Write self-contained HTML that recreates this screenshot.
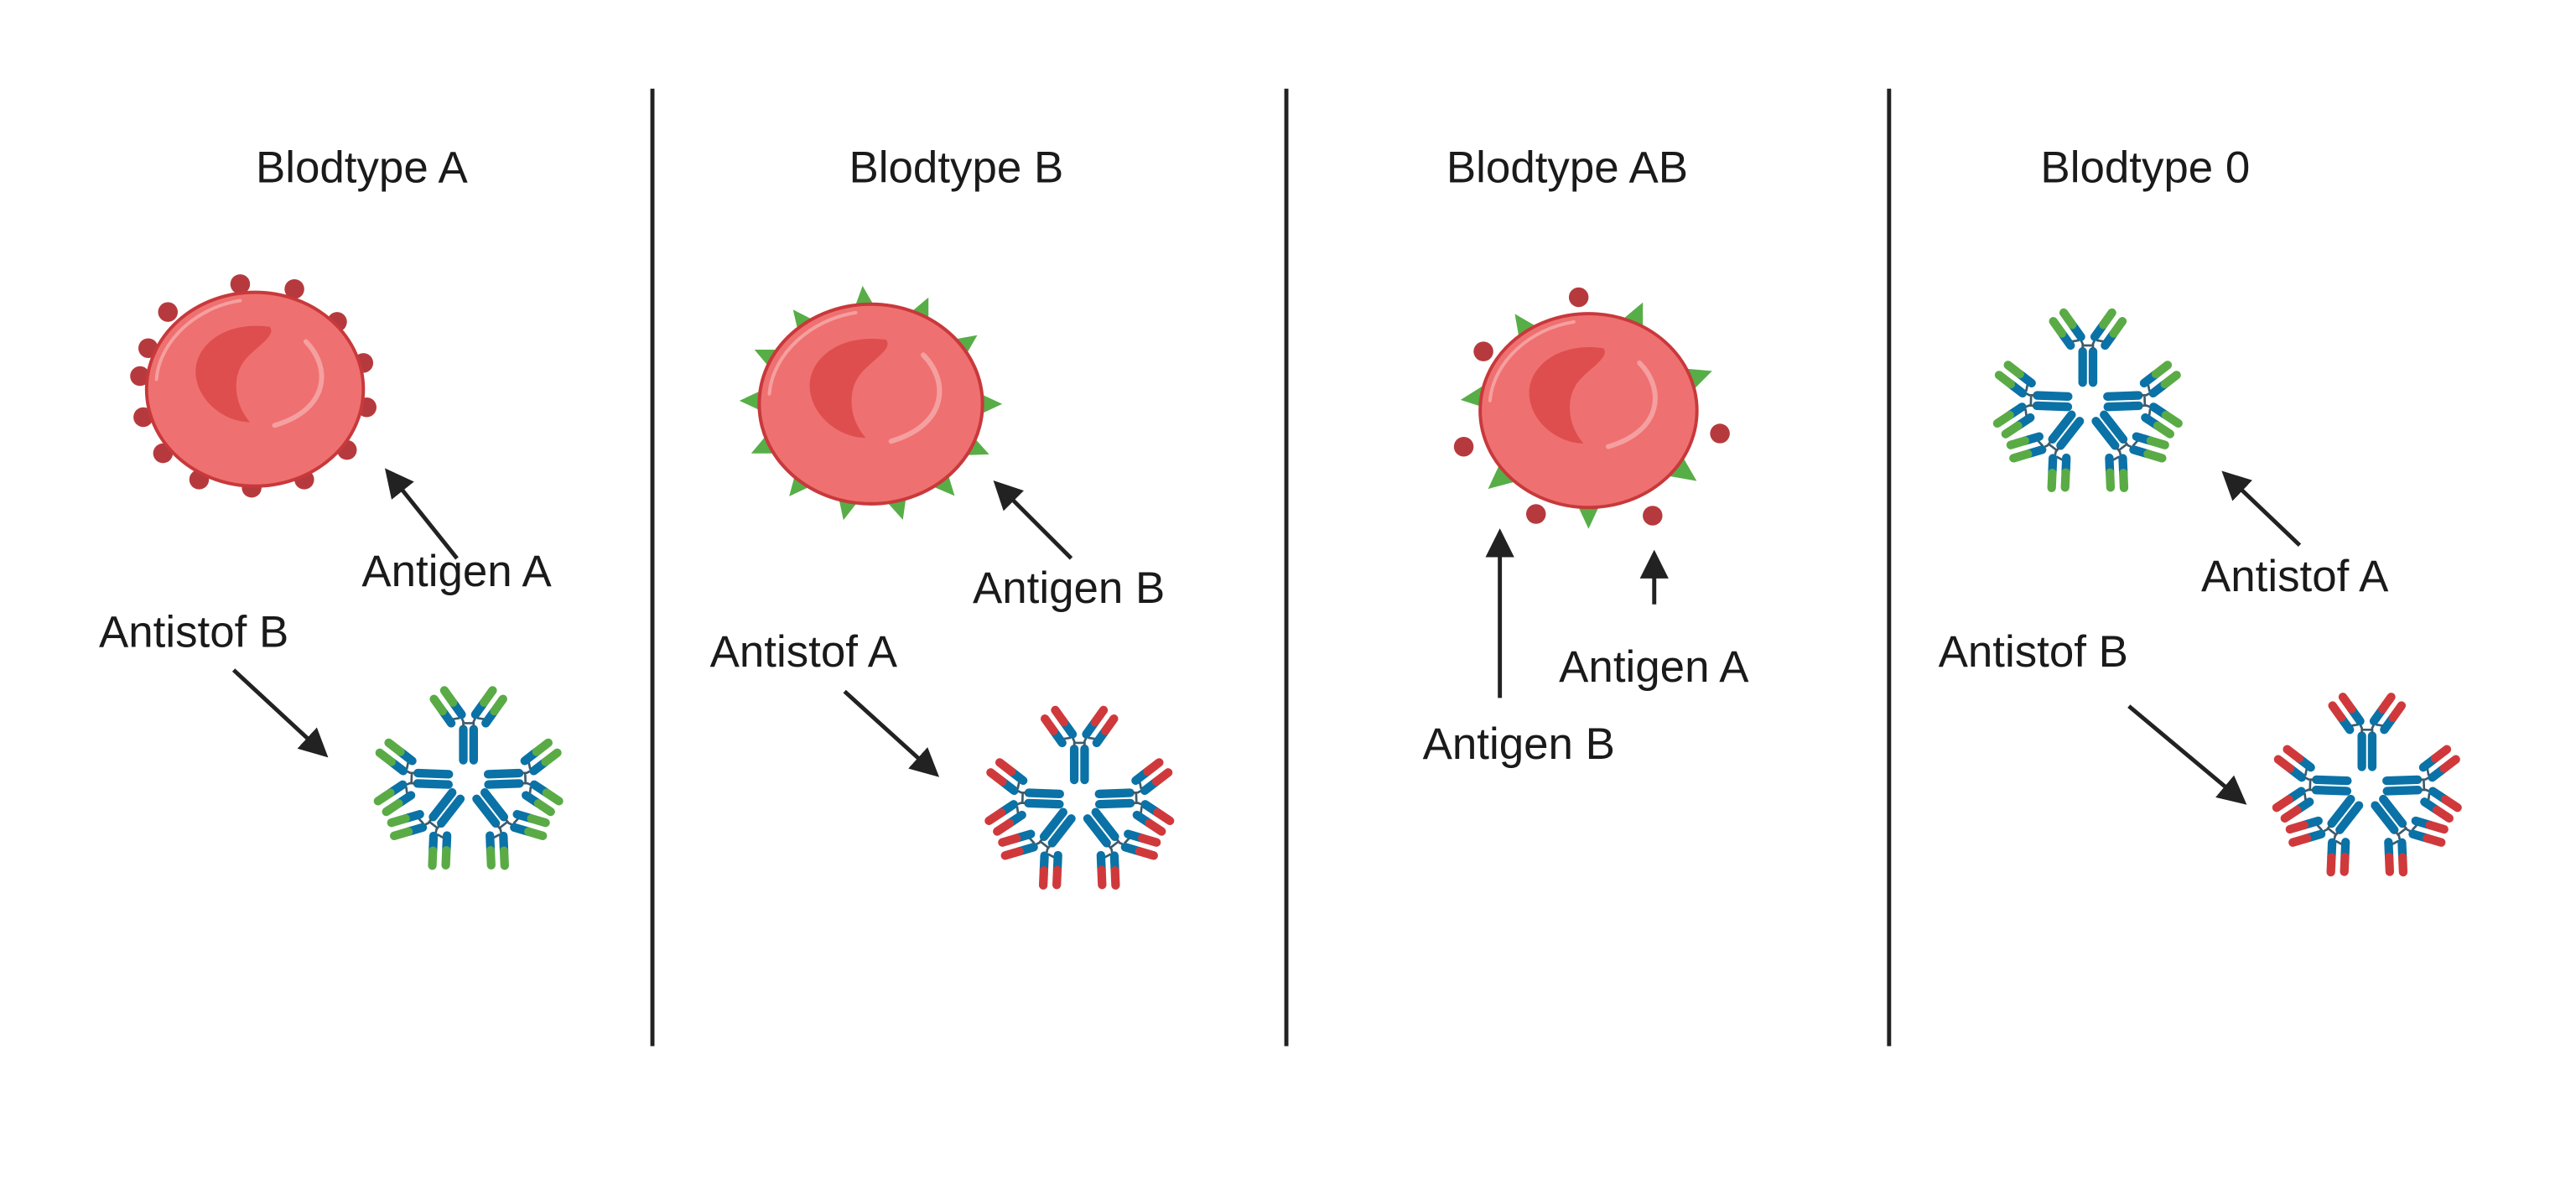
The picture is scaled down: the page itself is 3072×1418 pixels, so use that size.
<!DOCTYPE html>
<html><head><meta charset="utf-8"><style>
html,body{margin:0;padding:0;background:#fff;}
svg{display:block;}
text{font-family:"Liberation Sans",sans-serif;fill:#1a1a1a;font-size:27px;}
</style></head><body>
<svg width="3072" height="1418" viewBox="0 0 1568 724" xmlns="http://www.w3.org/2000/svg">
<defs>
<marker id="ah" markerWidth="7" markerHeight="7" refX="4.5" refY="3.5" orient="auto" markerUnits="strokeWidth">
<path d="M0,0 L7,3.5 L0,7 Z" fill="#222"/></marker>
<g id="abg">
 <rect x="-5.5" y="-32" width="5" height="23" rx="2.5" fill="#0a72a6"/>
 <rect x="0.5" y="-32" width="5" height="23" rx="2.5" fill="#0a72a6"/>
 <path d="M-3,-31 L-3,-34 L-5,-38 M3,-31 L3,-34 L5,-38 M-3,-33 L3,-33 M-5,-36 L-11,-35 M5,-36 L11,-35" stroke="#3d5a6b" stroke-width="1.3" fill="none"/>
 <g stroke-linecap="round" stroke-width="5" fill="none">
  <path d="M-4,-38 L-9,-45" stroke="#0a72a6"/><path d="M-9,-45 L-14,-52" stroke="#5aab46"/>
  <path d="M-10,-33 L-15,-40" stroke="#0a72a6"/><path d="M-15,-40 L-20,-47" stroke="#5aab46"/>
  <path d="M4,-38 L9,-45" stroke="#0a72a6"/><path d="M9,-45 L14,-52" stroke="#5aab46"/>
  <path d="M10,-33 L15,-40" stroke="#0a72a6"/><path d="M15,-40 L20,-47" stroke="#5aab46"/>
 </g>
</g>
<g id="abr">
 <rect x="-5.5" y="-32" width="5" height="23" rx="2.5" fill="#0a72a6"/>
 <rect x="0.5" y="-32" width="5" height="23" rx="2.5" fill="#0a72a6"/>
 <path d="M-3,-31 L-3,-34 L-5,-38 M3,-31 L3,-34 L5,-38 M-3,-33 L3,-33 M-5,-36 L-11,-35 M5,-36 L11,-35" stroke="#3d5a6b" stroke-width="1.3" fill="none"/>
 <g stroke-linecap="round" stroke-width="5" fill="none">
  <path d="M-4,-38 L-9,-45" stroke="#0a72a6"/><path d="M-9,-45 L-14,-52" stroke="#d0393b"/>
  <path d="M-10,-33 L-15,-40" stroke="#0a72a6"/><path d="M-15,-40 L-20,-47" stroke="#d0393b"/>
  <path d="M4,-38 L9,-45" stroke="#0a72a6"/><path d="M9,-45 L14,-52" stroke="#d0393b"/>
  <path d="M10,-33 L15,-40" stroke="#0a72a6"/><path d="M15,-40 L20,-47" stroke="#d0393b"/>
 </g>
</g>
<g id="cg">
 <use href="#abg"/><use href="#abg" transform="rotate(88)"/><use href="#abg" transform="rotate(-88)"/>
 <use href="#abg" transform="rotate(142)"/><use href="#abg" transform="rotate(-142)"/>
</g>
<g id="cr">
 <use href="#abr"/><use href="#abr" transform="rotate(88)"/><use href="#abr" transform="rotate(-88)"/>
 <use href="#abr" transform="rotate(142)"/><use href="#abr" transform="rotate(-142)"/>
</g>
<g id="cellbody">
 <ellipse cx="0" cy="0" rx="66" ry="59" fill="#ef7070" stroke="#c8393b" stroke-width="2"/>
 <path d="M9,-38 C-20,-42 -38,-25 -36,-8 C-34,8 -18,20 -3,20 C-12,10 -14,-5 -8,-15 C-3,-24 14,-32 9,-38 Z" fill="#de4e4e"/>
 <path d="M31,-29 C46,-14 46,12 12,22" stroke="#f5a0a0" stroke-width="3" fill="none" stroke-linecap="round"/>
 <path d="M-9,-54 C-35,-50 -58,-30 -60,-6" stroke="#f5a0a0" stroke-width="2" fill="none" stroke-linecap="round"/>
</g>
<polygon id="sp" points="-7,3 7,3 0,-12" fill="#57ae47"/>
</defs>

<g stroke="#222" stroke-width="2.5">
<line x1="397" y1="54" x2="397" y2="637"/><line x1="783" y1="54" x2="783" y2="637"/><line x1="1150" y1="54" x2="1150" y2="637"/>
</g>

<text x="220" y="111" text-anchor="middle">Blodtype A</text>
<text x="582" y="111" text-anchor="middle">Blodtype B</text>
<text x="954" y="111" text-anchor="middle">Blodtype AB</text>
<text x="1306" y="111" text-anchor="middle">Blodtype 0</text>

<g transform="translate(155,237)" fill="#b63a3d">
 <circle cx="-9" cy="-64" r="6"/><circle cx="24" cy="-61" r="6"/><circle cx="-53" cy="-47" r="6"/><circle cx="50" cy="-41" r="6"/>
 <circle cx="-65" cy="-25" r="6"/><circle cx="66" cy="-16" r="6"/><circle cx="-70" cy="-8" r="6"/><circle cx="68" cy="11" r="6"/>
 <circle cx="-68" cy="17" r="6"/><circle cx="56" cy="37" r="6"/><circle cx="-56" cy="39" r="6"/><circle cx="-34" cy="55" r="6"/>
 <circle cx="30" cy="55" r="6"/><circle cx="-2" cy="60" r="6"/>
 <use href="#cellbody"/>
</g>

<g transform="translate(530,246)">
 <use href="#sp" transform="translate(68,0) rotate(90)"/>
 <use href="#sp" transform="translate(61,26) rotate(113)"/>
 <use href="#sp" transform="translate(43,47) rotate(138)"/>
 <use href="#sp" transform="translate(16,59) rotate(163)"/>
 <use href="#sp" transform="translate(-14,59) rotate(193)"/>
 <use href="#sp" transform="translate(-42,47) rotate(220)"/>
 <use href="#sp" transform="translate(-62,25) rotate(245)"/>
 <use href="#sp" transform="translate(-68,-2) rotate(270)"/>
 <use href="#sp" transform="translate(-60,-28) rotate(295)"/>
 <use href="#sp" transform="translate(-40,-48) rotate(322)"/>
 <use href="#sp" transform="translate(-4,-60) rotate(355)"/>
 <use href="#sp" transform="translate(30,-54) rotate(25)"/>
 <use href="#sp" transform="translate(55,-35) rotate(55)"/>
 <g transform="scale(1.03)"><use href="#cellbody"/></g>
</g>

<g transform="translate(967,250)">
 <g fill="#b63a3d">
  <circle cx="-64" cy="-36" r="6"/><circle cx="-6" cy="-69" r="6"/><circle cx="80" cy="14" r="6"/>
  <circle cx="-76" cy="22" r="6"/><circle cx="-32" cy="63" r="6"/><circle cx="39" cy="64" r="6"/>
 </g>
 <use href="#sp" transform="translate(-38,-49) rotate(325)"/>
 <use href="#sp" transform="translate(28,-55) rotate(25)"/>
 <use href="#sp" transform="translate(64,-20) rotate(70)"/>
 <use href="#sp" transform="translate(-66,-8) rotate(263)"/>
 <use href="#sp" transform="translate(56,36) rotate(125)"/>
 <use href="#sp" transform="translate(0,60) rotate(180)"/>
 <use href="#sp" transform="translate(-52,40) rotate(230)"/>
 <use href="#cellbody"/>
</g>

<use href="#cg" transform="translate(285,475) scale(1.05)"/>
<use href="#cr" transform="translate(657,487) scale(1.05)"/>
<use href="#cg" transform="translate(1271,245) scale(1.05)"/>
<use href="#cr" transform="translate(1441,479) scale(1.05)"/>

<g stroke="#222" stroke-width="2.5" marker-end="url(#ah)">
<line x1="278" y1="340" x2="238" y2="290"/>
<line x1="142" y1="408" x2="195" y2="457"/>
<line x1="652" y1="340" x2="609" y2="297"/>
<line x1="514" y1="421" x2="567" y2="469"/>
<line x1="913" y1="425" x2="913" y2="328"/>
<line x1="1007" y1="368" x2="1007" y2="341"/>
<line x1="1400" y1="332" x2="1357" y2="291"/>
<line x1="1296" y1="430" x2="1363" y2="486"/>
</g>

<text x="220" y="357">Antigen A</text>
<text x="60" y="394">Antistof B</text>
<text x="592" y="367">Antigen B</text>
<text x="432" y="406">Antistof A</text>
<text x="949" y="415">Antigen A</text>
<text x="866" y="462">Antigen B</text>
<text x="1340" y="360">Antistof A</text>
<text x="1180" y="406">Antistof B</text>
</svg>
</body></html>
